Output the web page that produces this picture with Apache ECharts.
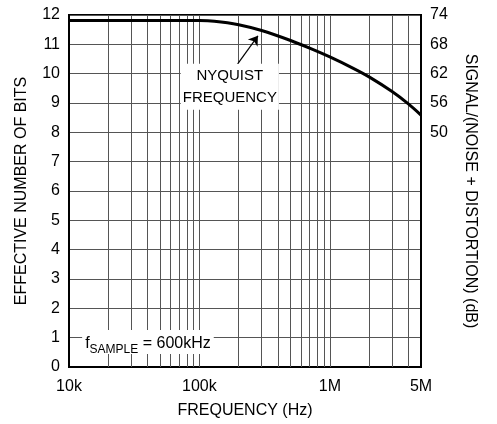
<!DOCTYPE html>
<html>
<head>
<meta charset="utf-8">
<script src="https://cdn.jsdelivr.net/npm/echarts@6/dist/echarts.min.js"></script>
<style>
html,body{margin:0;padding:0;background:#fff;}
#chart{width:497px;height:424px;}
</style>
</head>
<body>
<div id="chart"></div>
<script>
// Data
const freqHz = [10000, 50000, 100000, 130000, 200000, 300000, 500000, 700000, 1000000, 1500000, 2000000, 3000000, 4000000, 5000000];
const enob   = [11.81, 11.81, 11.81, 11.79, 11.67, 11.47, 11.13, 10.87, 10.57, 10.19, 9.89, 9.39, 8.97, 8.59];
const xTickValues = [10000, 100000, 1000000, 5000000];
const xTickLabels = ['10k', '100k', '1M', '5M'];
const rightTickValues = [8, 9, 10, 11, 12];
const rightTickLabels = ['50', '56', '62', '68', '74'];
const gridFreqs = [20000,30000,40000,50000,60000,70000,80000,90000,100000,
                   200000,300000,400000,500000,600000,700000,800000,900000,1000000,
                   2000000,3000000,4000000];

const FONT = 'Liberation Sans';
const chart = echarts.init(document.getElementById('chart'), null, {renderer:'canvas'});

const xLabelMap = {};
xTickValues.forEach((v,i)=>{ xLabelMap[v] = xTickLabels[i]; });
const rLabelMap = {};
rightTickValues.forEach((v,i)=>{ rLabelMap[v] = rightTickLabels[i]; });

chart.setOption({
  animation: false,
  backgroundColor: '#fff',
  grid: {left: 69, right: 76, top: 15, bottom: 57, show: true, borderColor: '#000', borderWidth: 2, backgroundColor: 'transparent'},
  xAxis: {
    type: 'log', logBase: 10, min: 10000, max: 5000000,
    name: 'FREQUENCY (Hz)', nameLocation: 'middle', nameGap: 36,
    nameTextStyle: {fontFamily: FONT, fontSize: 16, color: '#000'},
    axisLine: {show: true, lineStyle: {color: '#000', width: 2}},
    axisTick: {show: false},
    splitLine: {show: false},
    minorSplitLine: {show: false},
    axisLabel: {
      customValues: xTickValues,
      fontFamily: FONT, fontSize: 16, color: '#000', margin: 12,
      formatter: function(v){ return xLabelMap[Math.round(v)] || ''; }
    }
  },
  yAxis: [{
    type: 'value', min: 0, max: 12, interval: 1, position: 'left',
    name: 'EFFECTIVE NUMBER OF BITS', nameLocation: 'middle', nameGap: 39,
    nameTextStyle: {fontFamily: FONT, fontSize: 16, color: '#000'},
    axisLine: {show: true, lineStyle: {color: '#000', width: 2}},
    axisTick: {show: false},
    splitLine: {show: true, lineStyle: {color: '#555', width: 1}},
    axisLabel: {fontFamily: FONT, fontSize: 16, color: '#000', margin: 9}
  }, {
    type: 'value', min: 0, max: 12, interval: 1, position: 'right',
    name: 'SIGNAL/(NOISE + DISTORTION) (dB)', nameLocation: 'middle', nameGap: 41, nameRotate: -90,
    nameTextStyle: {fontFamily: FONT, fontSize: 16, color: '#000'},
    axisLine: {show: true, lineStyle: {color: '#000', width: 2}},
    axisTick: {show: false},
    splitLine: {show: false},
    axisLabel: {fontFamily: FONT, fontSize: 16, color: '#000', margin: 9,
      formatter: function(v){ return rLabelMap[v] || ''; }}
  }],
  series: [{
    type: 'line', name: 'grid', data: [], z: 1, silent: true,
    markLine: {
      silent: true, symbol: 'none', z: 1, animation: false,
      label: {show: false},
      lineStyle: {color: '#555', width: 1, type: 'solid'},
      data: gridFreqs.map(f => ({xAxis: f}))
    }
  }, {
    type: 'line', name: 'ENOB', z: 20,
    data: freqHz.map((f,i)=>[f, enob[i]]),
    smooth: 0.25, showSymbol: false, symbol: 'none',
    lineStyle: {color: '#000', width: 3},
    markPoint: {
      z: 10, silent: true, symbol: 'rect', symbolSize: 0,
      data: [{
        coord: [171000, 9.55],
        label: {show: true, position: 'inside', formatter: 'NYQUIST\nFREQUENCY', align: 'center', verticalAlign: 'middle',
          fontFamily: FONT, fontSize: 15, lineHeight: 22, color: '#000', backgroundColor: '#fff', padding: [1, 2]}
      }, {
        coord: [40300, 0.85],
        label: {show: true, position: 'inside', formatter: '{a|f}{s|SAMPLE}{a| = 600kHz}', align: 'center', verticalAlign: 'middle',
          backgroundColor: '#fff', padding: [2, 3],
          rich: {
            a: {fontFamily: FONT, fontSize: 16, color: '#000', verticalAlign: 'bottom', lineHeight: 20},
            s: {fontFamily: FONT, fontSize: 12, color: '#000', verticalAlign: 'bottom', lineHeight: 14, padding: [0,0,-4,0]}
          }}
      }]
    },
    markLine: {
      z: 10, silent: true, animation: false,
      label: {show: false},
      lineStyle: {color: '#000', width: 1.2, type: 'solid'},
      symbolSize: 9,
      data: [[{coord: [194000, 10.30], symbol: 'none'}, {coord: [281000, 11.29], symbol: 'arrow'}]]
    }
  }]
});
</script>
</body>
</html>
